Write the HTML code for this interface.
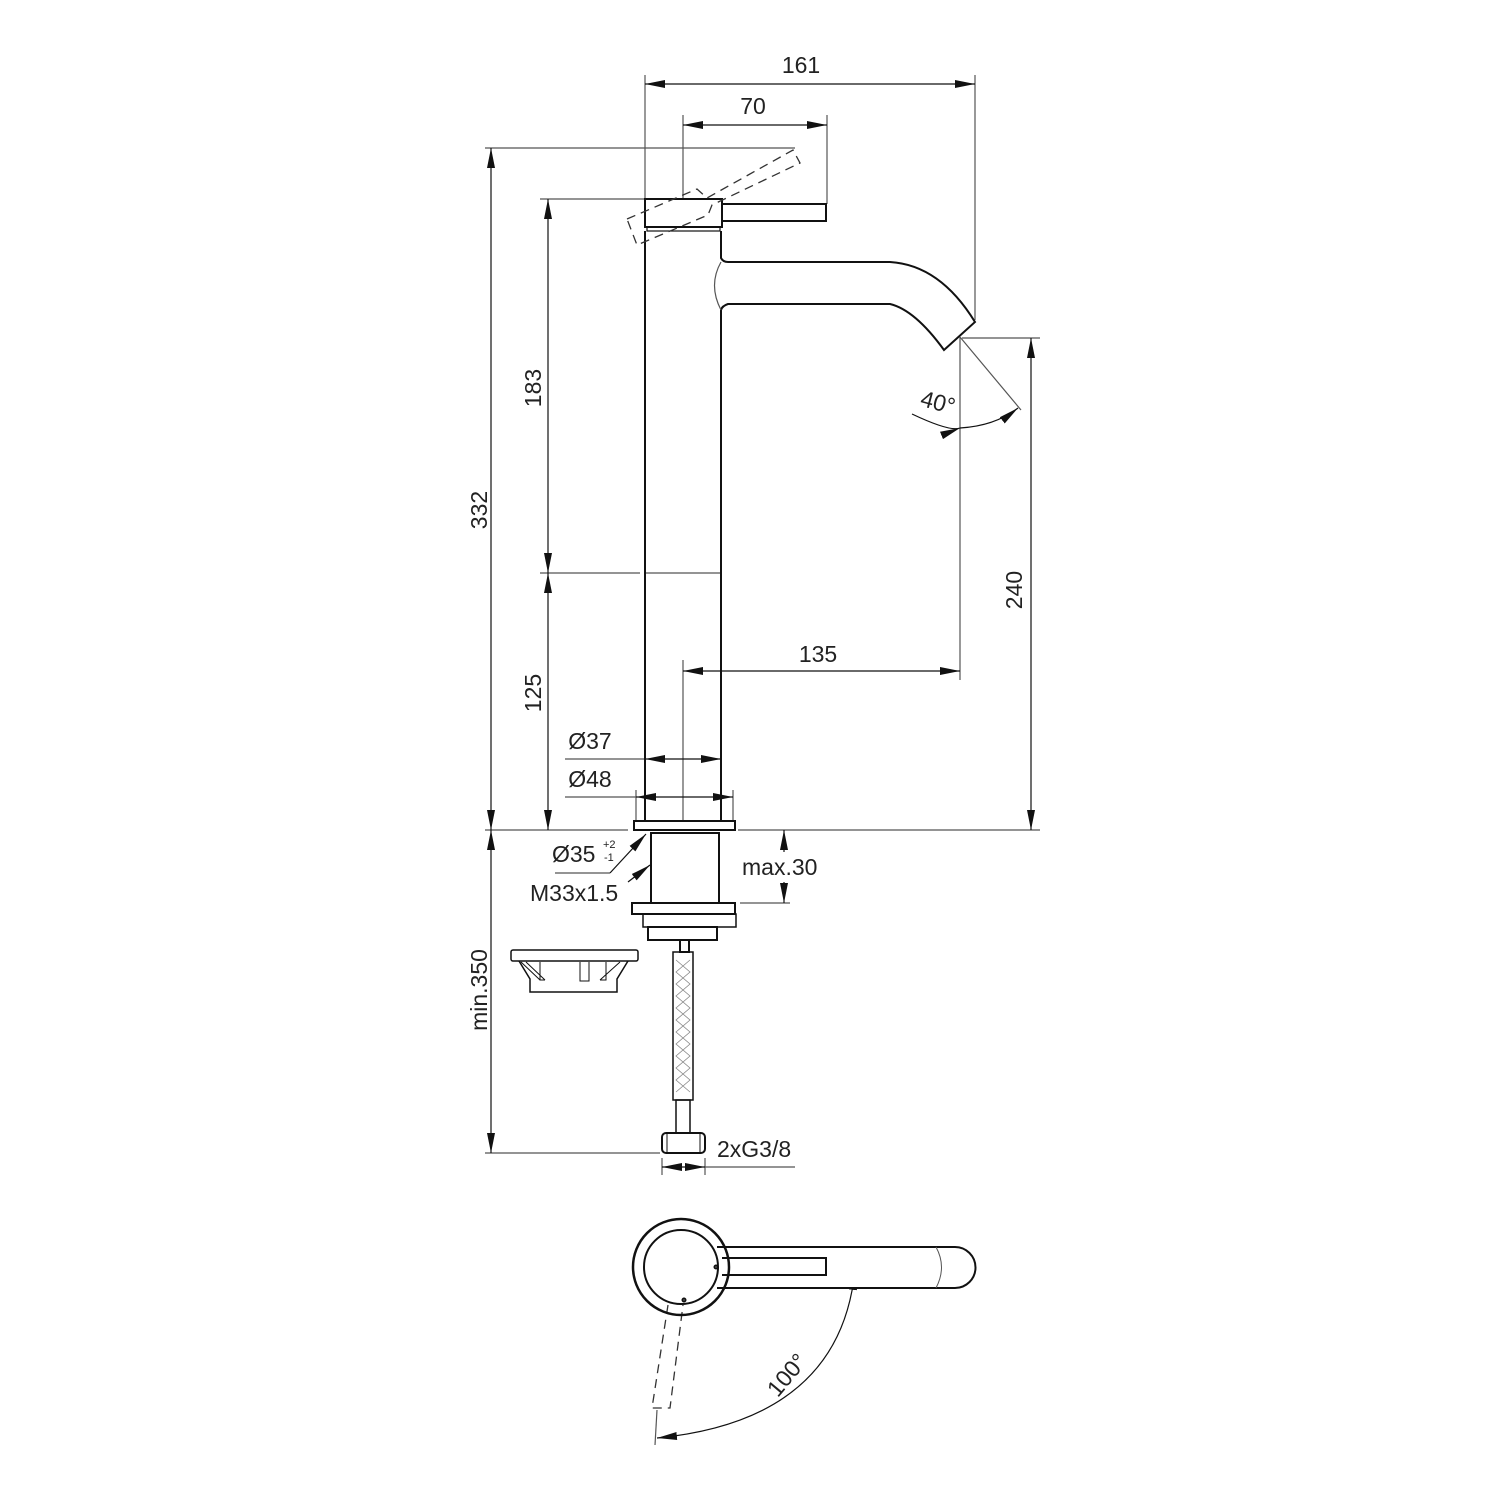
<!DOCTYPE html>
<html><head><meta charset="utf-8"><style>html,body{margin:0;padding:0;background:#fff}svg{display:block}text{font-family:"Liberation Sans",sans-serif;fill:#222}</style></head>
<body>
<svg width="1500" height="1500" viewBox="0 0 1500 1500" xmlns="http://www.w3.org/2000/svg">
<defs>
<marker id="a" viewBox="0 0 20 8" refX="20" refY="4" markerWidth="20" markerHeight="8" orient="auto-start-reverse" markerUnits="userSpaceOnUse"><path d="M0,0L20,4L0,8z" fill="#111"/></marker>
</defs>
<g stroke="#555" stroke-width="1.2" fill="none">
<line x1="645" y1="75" x2="645" y2="199"/>
<line x1="975" y1="75" x2="975" y2="320"/>
<line x1="683" y1="115" x2="683" y2="199"/>
<line x1="827" y1="115" x2="827" y2="204"/>
<line x1="485" y1="148" x2="795" y2="148"/>
<line x1="540" y1="199" x2="645" y2="199"/>
<line x1="540" y1="573" x2="640" y2="573"/>
<line x1="645" y1="573" x2="721" y2="573"/>
<line x1="962" y1="338" x2="1040" y2="338"/>
<line x1="960" y1="337" x2="960" y2="680"/>
<line x1="960" y1="337" x2="1021" y2="410"/>
<line x1="683" y1="660" x2="683" y2="820"/>
<line x1="565" y1="759" x2="645" y2="759"/>
<line x1="565" y1="797" x2="636" y2="797"/>
<line x1="636" y1="790" x2="636" y2="821"/>
<line x1="733" y1="790" x2="733" y2="821"/>
<line x1="485" y1="830" x2="628" y2="830"/>
<line x1="738" y1="830" x2="1040" y2="830"/>
<line x1="740" y1="903" x2="790" y2="903"/>
<line x1="485" y1="1153" x2="660" y2="1153"/>
<line x1="662" y1="1158" x2="662" y2="1175"/>
<line x1="705" y1="1158" x2="705" y2="1175"/>
<line x1="705" y1="1167" x2="795" y2="1167"/>
<line x1="555" y1="873" x2="610" y2="873"/>
<line x1="826" y1="1266" x2="858" y2="1266"/>
<line x1="657" y1="1410" x2="655" y2="1445"/>
</g>
<g stroke="#111" stroke-width="1.2" fill="none">
<line x1="645" y1="84" x2="975" y2="84" marker-start="url(#a)" marker-end="url(#a)"/>
<line x1="683" y1="125" x2="827" y2="125" marker-start="url(#a)" marker-end="url(#a)"/>
<line x1="491" y1="148" x2="491" y2="830" marker-start="url(#a)" marker-end="url(#a)"/>
<line x1="548" y1="199" x2="548" y2="573" marker-start="url(#a)" marker-end="url(#a)"/>
<line x1="548" y1="573" x2="548" y2="830" marker-start="url(#a)" marker-end="url(#a)"/>
<line x1="1031" y1="338" x2="1031" y2="830" marker-start="url(#a)" marker-end="url(#a)"/>
<line x1="683" y1="671" x2="960" y2="671" marker-start="url(#a)" marker-end="url(#a)"/>
<line x1="645" y1="759" x2="721" y2="759" marker-start="url(#a)" marker-end="url(#a)"/>
<line x1="636" y1="797" x2="733" y2="797" marker-start="url(#a)" marker-end="url(#a)"/>
<line x1="784" y1="852" x2="784" y2="830" marker-end="url(#a)"/>
<line x1="784" y1="882" x2="784" y2="903" marker-end="url(#a)"/>
<line x1="491" y1="830" x2="491" y2="1153" marker-start="url(#a)" marker-end="url(#a)"/>
<line x1="662" y1="1167" x2="705" y2="1167" marker-start="url(#a)" marker-end="url(#a)"/>
<line x1="610" y1="873" x2="646" y2="834" marker-end="url(#a)"/>
<line x1="628" y1="882" x2="650" y2="865" marker-end="url(#a)"/>
<path d="M912,414 Q950,432 960,428" marker-end="url(#a)"/>
<path d="M960,428 Q995,426 1018,408" marker-end="url(#a)"/>
<path d="M855,1270 Q840,1420 657,1438" marker-start="url(#a)" marker-end="url(#a)"/>
</g>
<g stroke="#111" stroke-width="2" fill="none">
<rect x="645" y="199" width="77" height="28"/>
<rect x="647" y="227" width="73" height="4" stroke-width="1.2"/>
<path d="M722,204 L826,204 L826,221 L722,221"/>
<path d="M645,231 L645,821 M721,231 L721,258 Q723,262 728,262 L890,262 Q940,265 975,322 L944,350 Q915,310 890,304 L728,304 Q722,306 721,310 L721,821"/>
<path d="M721,262 Q708,285 721,310" stroke-width="1.2" stroke="#555"/>
<rect x="634" y="821" width="101" height="9"/>
<rect x="651" y="833" width="68" height="70"/>
<rect x="632" y="903" width="103" height="11"/>
<rect x="643" y="914" width="93" height="13" stroke-width="1.5"/>
<rect x="648" y="927" width="69" height="13"/>
<rect x="680" y="940" width="9" height="12"/>
<rect x="673" y="952" width="20" height="148" stroke-width="1.5"/>
<rect x="676" y="1100" width="14" height="33" stroke-width="1.5"/>
<rect x="662" y="1133" width="43" height="20" rx="4"/>
<line x1="667" y1="1133" x2="667" y2="1153" stroke-width="1"/>
<line x1="700" y1="1133" x2="700" y2="1153" stroke-width="1"/>
</g>
<path d="M676,960 l14,12 l-14,12 l14,12 l-14,12 l14,12 l-14,12 l14,12 l-14,12 l14,12 l-14,12 l14,12 M690,960 l-14,12 l14,12 l-14,12 l14,12 l-14,12 l14,12 l-14,12 l14,12 l-14,12 l14,12 l-14,12" stroke="#888" stroke-width="0.8" fill="none"/>
<g stroke="#111" stroke-width="1.5" fill="none">
<rect x="511" y="950" width="127" height="11" rx="2"/>
<path d="M519,961 L530,979 L530,992 L617,992 L617,979 L628,961"/>
<path d="M521,962 L540,980 M526,962 L545,980 M540,962 L540,980 L545,980 M606,962 L606,980 L600,980 M620,962 L600,980 M580,962 L580,981 L589,981 L589,962" stroke-width="1"/>
</g>
<g stroke="#333" stroke-width="1.3" fill="none" stroke-dasharray="9,6">
<path d="M627,219 L697,189 L707,198 L793,150 L800,163 L712,205 L708,215 L637,245 Z"/>
<path d="M668,1305 L652,1408 L670,1408 L683,1305"/>
</g>
<g stroke="#111" stroke-width="2" fill="none">
<path d="M717,1247 L955,1247 A20.5,20.5 0 0 1 955,1288 L717,1288" fill="#fff"/>
<path d="M936,1247 Q947,1267 936,1288" stroke-width="1" stroke="#555"/>
<circle cx="681" cy="1267" r="48" stroke-width="2.5"/>
<circle cx="681" cy="1267" r="37"/>
<path d="M722,1258 L826,1258 L826,1275 L722,1275"/>
<circle cx="716" cy="1267" r="1.5"/>
<circle cx="684" cy="1300" r="1.5"/>
</g>
<g font-size="23">
<text x="801" y="73" text-anchor="middle">161</text>
<text x="753" y="114" text-anchor="middle">70</text>
<text x="818" y="662" text-anchor="middle">135</text>
<text x="590" y="749" text-anchor="middle">Ø37</text>
<text x="590" y="787" text-anchor="middle">Ø48</text>
<text x="552" y="862">Ø35</text>
<text x="603" y="848" font-size="11">+2</text>
<text x="604" y="861" font-size="11">-1</text>
<text x="530" y="901">M33x1.5</text>
<text x="742" y="875">max.30</text>
<text x="717" y="1157">2xG3/8</text>
<text transform="translate(487,510) rotate(-90)" text-anchor="middle">332</text>
<text transform="translate(541,388) rotate(-90)" text-anchor="middle">183</text>
<text transform="translate(541,693) rotate(-90)" text-anchor="middle">125</text>
<text transform="translate(1022,590) rotate(-90)" text-anchor="middle">240</text>
<text transform="translate(487,990) rotate(-90)" text-anchor="middle">min.350</text>
<text transform="translate(936,410) rotate(15)" text-anchor="middle">40°</text>
<text transform="translate(793,1380) rotate(-50)" text-anchor="middle">100°</text>
</g>
</svg>
</body></html>
